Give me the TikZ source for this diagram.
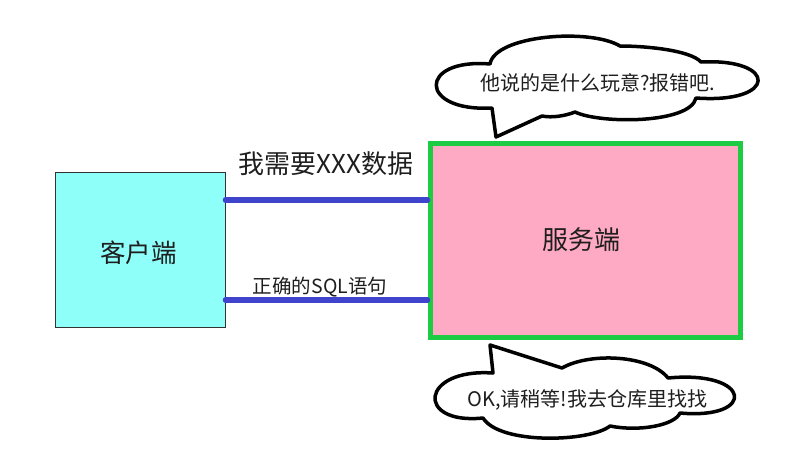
\documentclass[tikz,border=0pt]{standalone}
\usepackage{fontspec}
\setmainfont{Noto Sans CJK SC}
\definecolor{clientfill}{RGB}{143,255,250}
\definecolor{serverfill}{RGB}{255,170,196}
\definecolor{servergreen}{RGB}{30,204,68}
\definecolor{wireblue}{RGB}{64,68,204}
\definecolor{txt}{RGB}{30,30,30}
\tikzset{
  box/.style={draw, inner sep=0pt, text=txt},
  wire/.style={draw=wireblue, line width=5.5pt, line cap=round},
  lbl/.style={inner sep=0pt, text=txt},
  bubbleline/.style={draw=black, fill=white, line width=3.5pt, line join=round},
}
\begin{document}
\begin{tikzpicture}[x=1pt,y=-1pt]
\useasboundingbox (0,0) rectangle (786,474);
% boxes
\node[box, draw=black!80, line width=1pt, fill=clientfill, minimum width=170pt, minimum height=155pt] (client) at (140,249.5) {};
\node[lbl, font=\fontsize{25.5}{28}\selectfont] (clientlbl) at (138.5,253) {客户端};
\node[box, draw=servergreen, line width=5pt, fill=serverfill, minimum width=310pt, minimum height=194pt] (server) at (585,240) {};
\node[lbl, font=\fontsize{26}{29}\selectfont] (serverlbl) at (581,240) {服务端};
% wires
\draw[wire] ([yshift=49.5pt]client.east) -- ([yshift=40pt]server.west);
\draw[wire] ([yshift=-50.5pt]client.east) -- ([yshift=-60pt]server.west);
\node[lbl, font=\fontsize{26}{29}\selectfont] (req) at (326,164) {我需要XXX数据};
\node[lbl, font=\fontsize{19.5}{22}\selectfont] (sql) at (320,287) {正确的SQL语句};
% top bubble
\path[bubbleline] (492,108)
  .. controls (418,112) and (418,58) .. (490,64)
  .. controls (495,35) and (590,28) .. (620,46)
  .. controls (645,46) and (690,50) .. (701,62)
  .. controls (778,58) and (778,104) .. (696,98)
  .. controls (690,124) and (600,124) .. (575,112)
  .. controls (565,116) and (552,118) .. (542,116)
  -- (496,137) -- cycle;
\node[lbl, font=\fontsize{20}{23}\selectfont] (t1) at (598,83) {他说的是什么玩意?报错吧.};
% bottom bubble
\path[bubbleline] (493,373)
  .. controls (420,368) and (415,425) .. (483,418)
  .. controls (500,445) and (590,442) .. (610,426)
  .. controls (640,432) and (675,425) .. (680,413)
  .. controls (757,420) and (752,370) .. (668,378)
  .. controls (650,355) and (590,352) .. (562,368)
  -- (490,345) -- cycle;
\node[lbl, font=\fontsize{20}{23}\selectfont] (t2) at (587.5,400) {OK,请稍等!我去仓库里找找};
\end{tikzpicture}
\end{document}
